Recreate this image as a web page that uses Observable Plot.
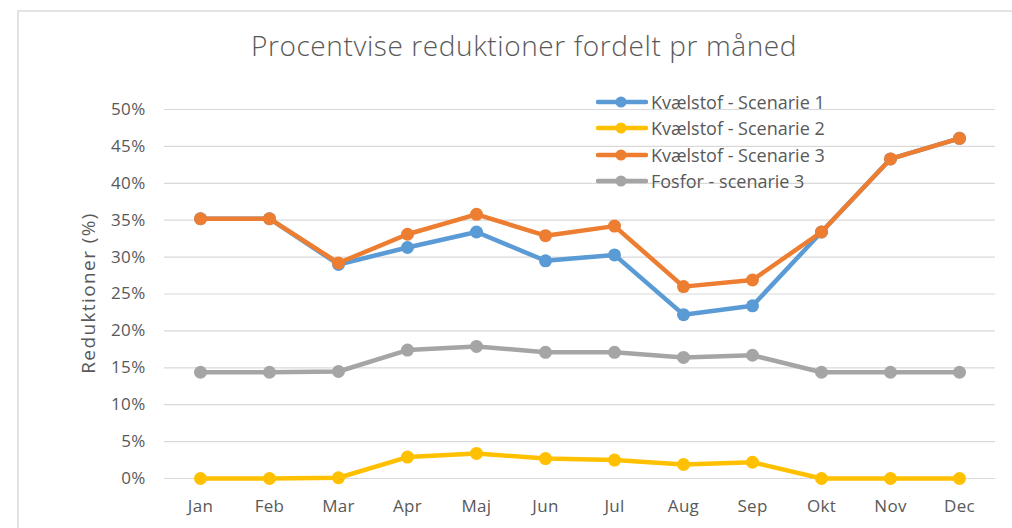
<!DOCTYPE html>
<html>
<head>
<meta charset="utf-8">
<script src="https://cdn.jsdelivr.net/npm/d3@7"></script>
<script src="https://cdn.jsdelivr.net/npm/@observablehq/plot@0.6"></script>
<style>
  html, body { margin: 0; padding: 0; background: #fff; }
  #wrap { position: relative; width: 1012px; height: 528px; overflow: hidden; font-family: "Open Sans", sans-serif; }
  #frame { position: absolute; left: 17px; top: 10px; width: 1100px; height: 600px; border: 2px solid #e3e3e3; box-sizing: border-box; pointer-events: none; }
  #title { position: absolute; left: 0; width: 1048px; top: 26px; text-align: center; font-size: 28px; font-weight: 300; letter-spacing: 0.6px; color: #595959; line-height: 38px; }
  #legend { position: absolute; left: 596px; top: 89px; }
  .item { display: flex; align-items: center; height: 26.3px; font-size: 18px; color: #595959; }
  .item svg { margin-right: 3px; }
  #chart { position: absolute; left: 0; top: 0; }
</style>
</head>
<body>
<div id="wrap">
  <div id="chart"></div>
  <div id="frame"></div>
  <div id="title"></div>
  <div id="legend"></div>
</div>
<script>
const title = "Procentvise reduktioner fordelt pr måned";
const yLabel = "Reduktioner (%)";
const months = ["Jan","Feb","Mar","Apr","Maj","Jun","Jul","Aug","Sep","Okt","Nov","Dec"];
const seriesNames = ["Kvælstof - Scenarie 1","Kvælstof - Scenarie 2","Kvælstof - Scenarie 3","Fosfor - scenarie 3"];
const seriesColors = ["#5B9BD5","#FFC000","#ED7D31","#A5A5A5"];
const kvaelstof1 = [35.2,35.2,29.0,31.3,33.4,29.5,30.3,22.2,23.4,33.4,43.3,46.1];
const kvaelstof2 = [0,0,0.1,2.9,3.4,2.7,2.5,1.9,2.2,0,0,0];
const kvaelstof3 = [35.2,35.2,29.2,33.1,35.8,32.9,34.2,26.0,26.9,33.4,43.3,46.1];
const fosfor3 = [14.4,14.4,14.5,17.4,17.9,17.1,17.1,16.4,16.7,14.4,14.4,14.4];
const yTicks = [0,5,10,15,20,25,30,35,40,45,50];

const allSeries = [kvaelstof1, kvaelstof2, kvaelstof3, fosfor3];

document.getElementById("title").textContent = title;

const marks = [
  Plot.ruleY(yTicks, {stroke: "#d9d9d9", strokeWidth: 1.2})
];
allSeries.forEach((vals, i) => {
  const data = months.map((m, j) => ({month: m, value: vals[j]}));
  marks.push(Plot.line(data, {x: "month", y: "value", stroke: seriesColors[i], strokeWidth: 4.5, strokeLinejoin: "round", strokeLinecap: "round"}));
  marks.push(Plot.dot(data, {x: "month", y: "value", fill: seriesColors[i], r: 6.5}));
});

const chart = Plot.plot({
  width: 1012,
  height: 528,
  marginLeft: 164,
  marginRight: 17,
  marginTop: 109,
  marginBottom: 50,
  style: {fontFamily: "Open Sans, sans-serif", fontSize: "17px", color: "#595959", background: "transparent", letterSpacing: "0.3px"},
  x: {type: "point", domain: months, padding: 0.5, label: null},
  y: {domain: [0, 50], label: null},
  marks: [
    ...marks,
    Plot.axisY({ticks: yTicks, tickFormat: d => d + "%", tickSize: 0, tickPadding: 19, label: null}),
    Plot.axisX({tickSize: 0, tickPadding: 21, label: null})
  ]
});
document.getElementById("chart").appendChild(chart);

// rotated y label as SVG text
const svg = d3.select(chart);
svg.append("text")
  .attr("transform", "translate(90,293) rotate(-90)")
  .attr("text-anchor", "middle")
  .attr("dominant-baseline", "middle")
  .attr("fill", "#595959")
  .style("font-size", "19px")
  .style("letter-spacing", "1.4px")
  .text(yLabel);

const legend = document.getElementById("legend");
seriesNames.forEach((name, i) => {
  const div = document.createElement("div");
  div.className = "item";
  div.innerHTML = `<svg width="52" height="14"><line x1="2" y1="7" x2="50" y2="7" stroke="${seriesColors[i]}" stroke-width="4.5" stroke-linecap="round"/><circle cx="25" cy="7" r="5.5" fill="${seriesColors[i]}"/></svg>`;
  const span = document.createElement("span");
  span.textContent = name;
  div.appendChild(span);
  legend.appendChild(div);
});
</script>
</body>
</html>
